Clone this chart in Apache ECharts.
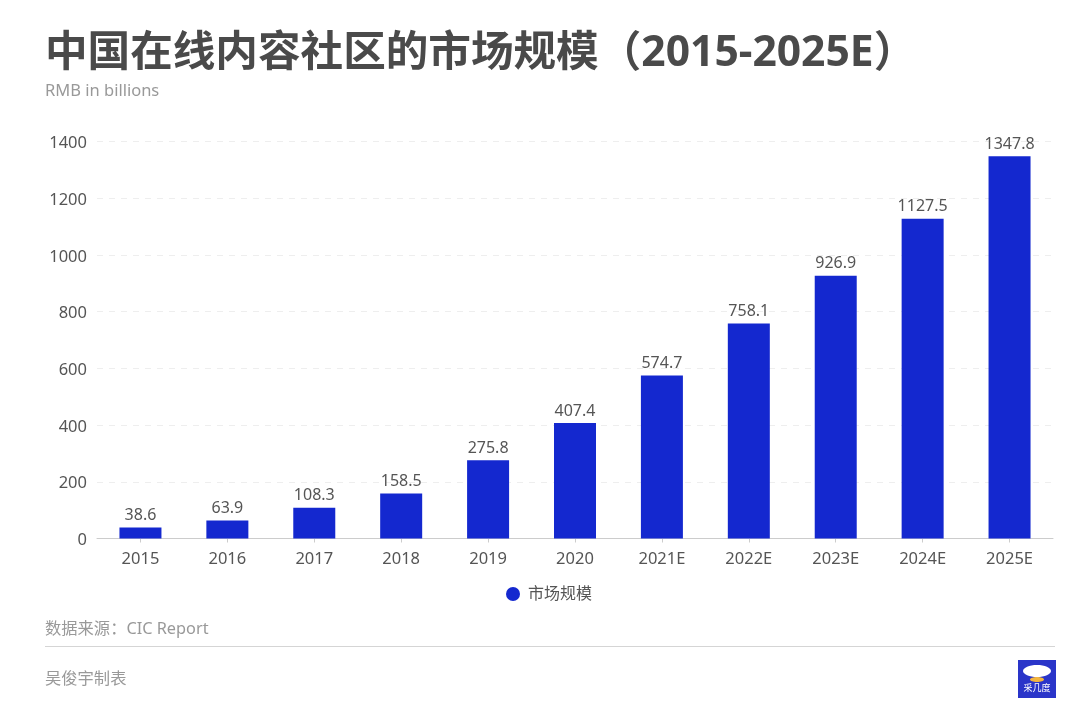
<!DOCTYPE html>
<html>
<head>
<meta charset="utf-8">
<title>中国在线内容社区的市场规模</title>
<style>
html, body { margin: 0; padding: 0; background: #fff; }
#main { width: 1080px; height: 716px; }
</style>
<script src="https://cdn.jsdelivr.net/npm/echarts@6/dist/echarts.min.js"></script>
</head>
<body>
<div id="main"></div>
<script>
var years = ['2015', '2016', '2017', '2018', '2019', '2020', '2021E', '2022E', '2023E', '2024E', '2025E'];
var marketSize = [38.6, 63.9, 108.3, 158.5, 275.8, 407.4, 574.7, 758.1, 926.9, 1127.5, 1347.8];
var seriesName = '市场规模';

var font = '"Noto Sans", "Noto Sans CJK SC", sans-serif';
var myChart = echarts.init(document.getElementById('main'));

myChart.setOption({
    animation: false,
    backgroundColor: '#fff',
    textStyle: { fontFamily: font },
    title: {
        text: '中国在线内容社区的市场规模（2015-2025E）',
        subtext: 'RMB in billions',
        left: 40,
        top: 19,
        itemGap: 0,
        textStyle: { fontSize: 42.6, fontWeight: 'bold', color: '#4a4a4a', fontFamily: font, lineHeight: 59 },
        subtextStyle: { fontSize: 16.5, color: '#999', fontFamily: font }
    },
    legend: {
        data: [seriesName],
        left: 501,
        top: 581,
        icon: 'circle',
        itemWidth: 14,
        itemHeight: 14,
        textStyle: { fontSize: 16, color: '#555', fontFamily: font, padding: [0, 0, 0, 3] }
    },
    grid: { left: 97, right: 27, top: 141.5, height: 397 },
    xAxis: {
        type: 'category',
        data: years,
        axisLine: { lineStyle: { color: '#ccc', width: 1 } },
        axisTick: { show: true, alignWithLabel: true, length: 4, lineStyle: { color: '#ccc' } },
        axisLabel: { fontSize: 16.5, color: '#555', margin: 13 }
    },
    yAxis: {
        type: 'value',
        min: 0,
        max: 1400,
        interval: 200,
        axisLine: { show: false },
        axisTick: { show: false },
        axisLabel: {
            fontSize: 16.5,
            color: '#555',
            margin: 10,
            verticalAlign: 'top',
            lineHeight: 4,
            formatter: function (v) { return String(v); }
        },
        splitLine: { lineStyle: { color: '#eee', type: [6, 6], width: 1 } }
    },
    series: [{
        name: seriesName,
        type: 'bar',
        data: marketSize,
        barWidth: 42,
        itemStyle: { color: '#1428cf' },
        label: { show: true, position: 'top', distance: 4, fontSize: 16, color: '#555' }
    }],
    graphic: [
        // footer: source, rule, author, logo
        { type: 'text', left: 45, top: 621, style: { text: '数据来源：CIC Report', font: '16.3px ' + font, fill: '#999' } },
        { type: 'line', shape: { x1: 45, y1: 646.5, x2: 1055, y2: 646.5 }, style: { stroke: '#d5d5d5', lineWidth: 1 } },
        { type: 'text', left: 45, top: 671, style: { text: '吴俊宇制表', font: '16.3px ' + font, fill: '#999' } },
        { type: 'rect', shape: { x: 1018, y: 660, width: 38, height: 38 }, style: { fill: '#2a35c9' } },
        { type: 'ellipse', shape: { cx: 1037, cy: 671, rx: 14, ry: 6 }, style: { fill: '#fff' } },
        { type: 'ellipse', shape: { cx: 1037, cy: 679.5, rx: 7, ry: 2.5 }, style: { fill: '#f3b53f' } },
        { type: 'text', x: 1037, y: 684, style: { text: '采几度', font: '9px ' + font, fill: '#fff', textAlign: 'center' } }
    ]
});
</script>
</body>
</html>
